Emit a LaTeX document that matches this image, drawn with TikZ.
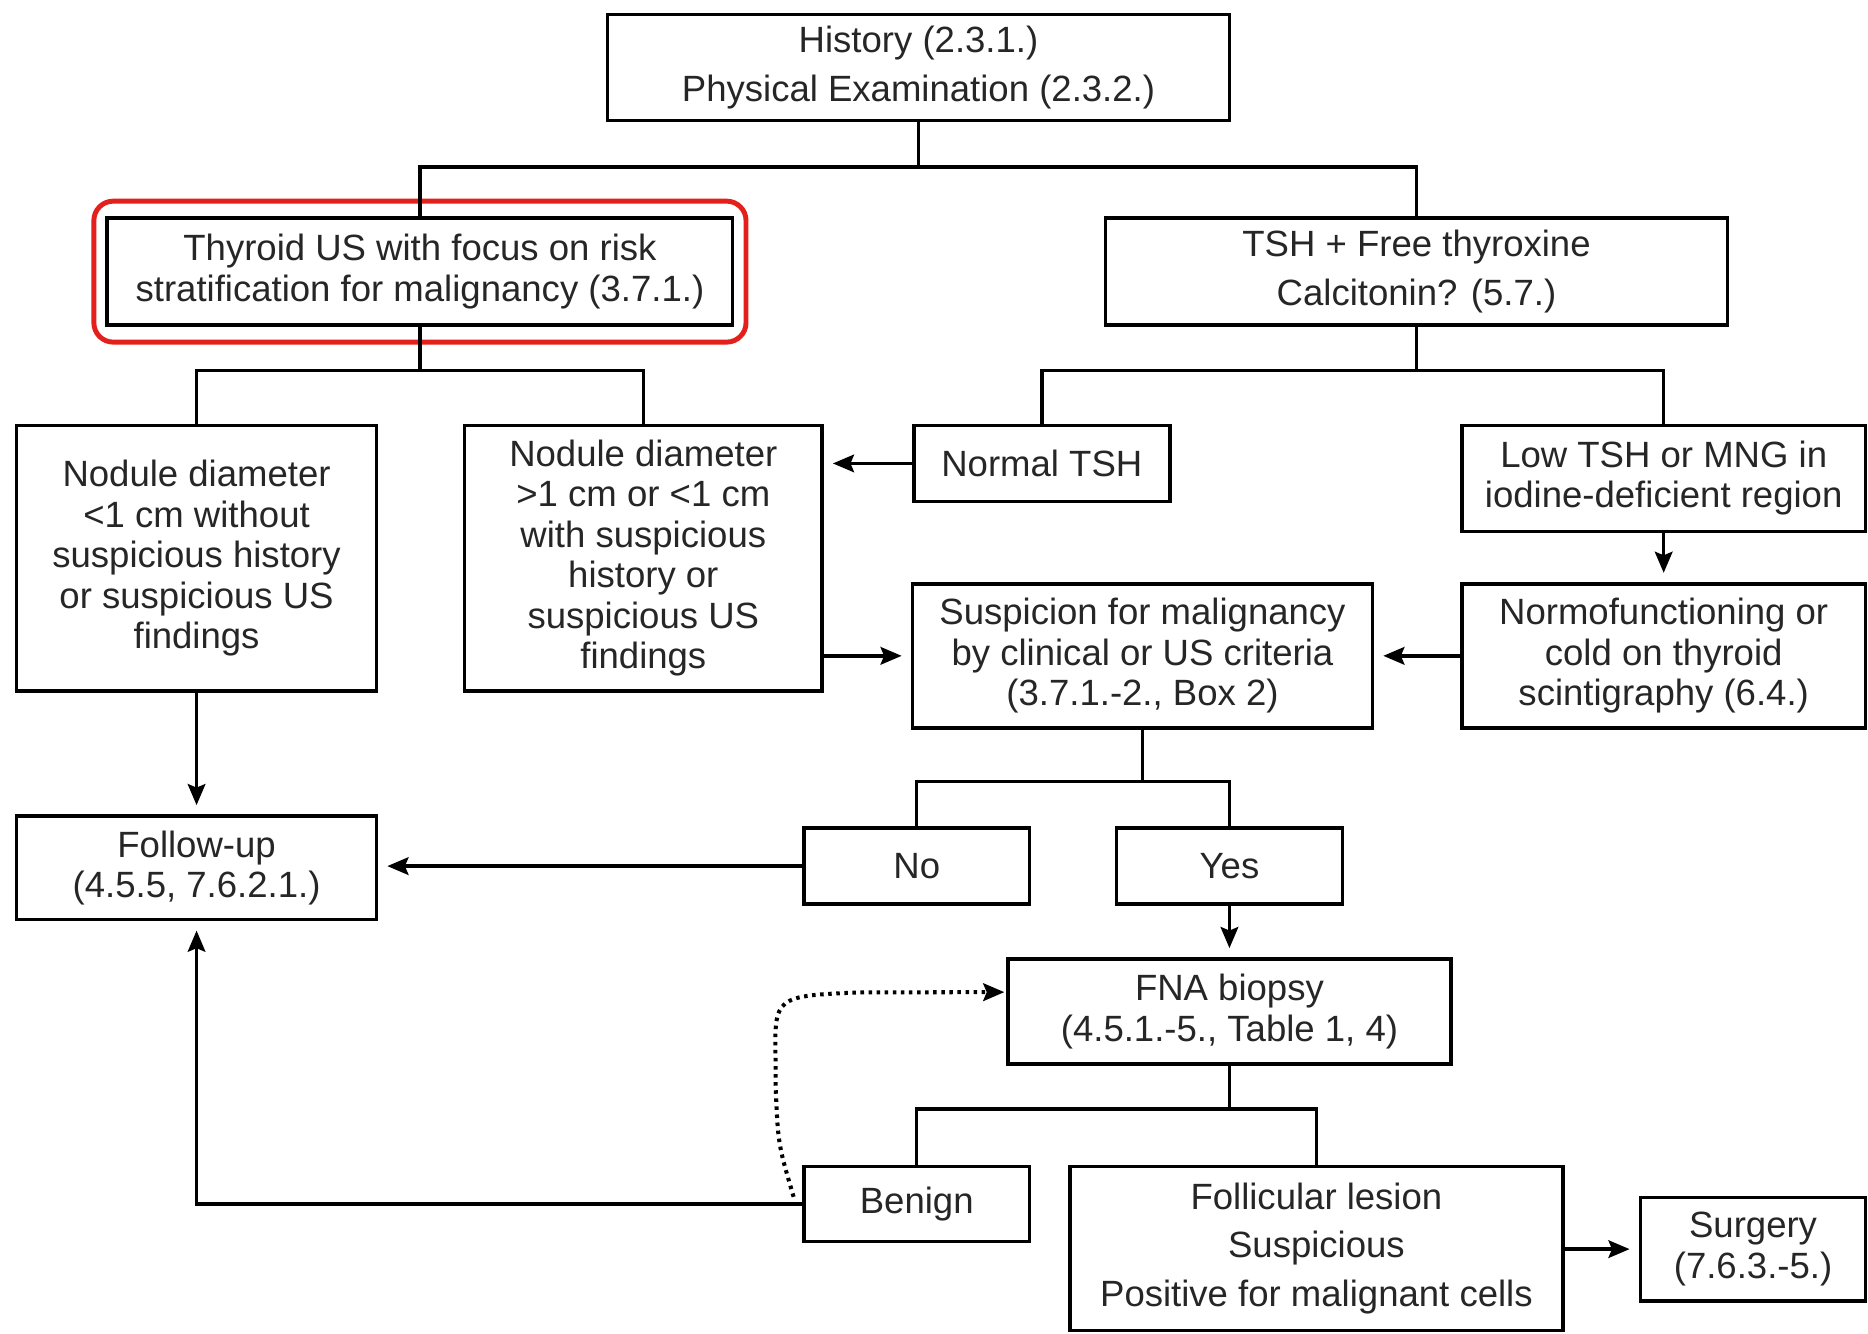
\documentclass[tikz,border=0pt]{standalone}
\usepackage{fontspec}
\setmainfont{Liberation Sans}
\usetikzlibrary{arrows.meta,fit}
\definecolor{hlred}{RGB}{228,32,28}
\begin{document}
\begin{tikzpicture}[x=0.011913cm,y=-0.011913cm,
  box/.style={draw=black, line width=1pt, inner sep=0pt, align=center, text=black!85,
    font=\fontsize{10.4}{11.5}\selectfont},
  sz/.style 2 args={minimum width=#1*0.011913cm, minimum height=#2*0.011913cm},
  link/.style={draw=black, line width=1pt},
  arr/.style={link, -{Stealth[length=6pt,width=5pt,inset=1pt]}, shorten >=2.6pt},
  dotarr/.style={draw=black, line width=1.15pt, dash pattern=on 1pt off 1.3pt,
    -{Stealth[length=6pt,width=5pt,inset=1pt]}, shorten >=0.5pt},
  redbox/.style={draw=hlred, line width=1.4pt, rounded corners=5.5pt}
]
\fill[white] (0,0) rectangle (1568,1119);
\useasboundingbox (0,0) rectangle (1568,1119);

% boxes
\node[box, sz={522}{89}] (history) at (771,56.5) {History (2.3.1.)\\[2.3pt]Physical Examination (2.3.2.)};
\node[box, sz={525}{90}] (thyroid) at (352.5,228) {Thyroid US with focus on risk\\stratification for malignancy (3.7.1.)};
\node[box, sz={522}{90}] (tsh) at (1189,228) {TSH + Free thyroxine\\[2.3pt]Calcitonin? (5.7.)};
\node[box, sz={302}{223}] (nod1) at (165,468.5) {Nodule diameter\\<1 cm without\\suspicious history\\or suspicious US\\findings};
\node[box, sz={300}{223}] (nod2) at (540,468.5) {Nodule diameter\\>1 cm or <1 cm\\with suspicious\\history or\\suspicious US\\findings};
\node[box, sz={215}{64}] (normal) at (874.5,389) {Normal TSH};
\node[box, sz={339}{89}] (low) at (1396.5,401.5) {Low TSH or MNG in\\iodine-deficient region};
\node[box, sz={386}{121}] (susp) at (959,550.5) {Suspicion for malignancy\\by clinical or US criteria\\(3.7.1.-2., Box 2)};
\node[box, sz={339}{121}] (normo) at (1396.5,550.5) {Normofunctioning or\\cold on thyroid\\scintigraphy (6.4.)};
\node[box, sz={189}{64}] (no) at (769.5,727) {No};
\node[box, sz={190}{64}] (yes) at (1032,727) {Yes};
\node[box, sz={302}{87}] (follow) at (165,728.5) {Follow-up\\(4.5.5, 7.6.2.1.)};
\node[box, sz={372}{88}] (fna) at (1032,849) {FNA biopsy\\(4.5.1.-5., Table 1, 4)};
\node[box, sz={189}{63}] (benign) at (769.5,1010.5) {Benign};
\node[box, sz={414}{138}] (foll) at (1105,1048) {Follicular lesion\\[2.3pt]Suspicious\\[2.3pt]Positive for malignant cells};
\node[box, sz={189}{87}] (surg) at (1471.5,1048.5) {Surgery\\(7.6.3.-5.)};

% highlight
\node[redbox, fit=(thyroid), inner xsep=3.3pt, inner ysep=4.3pt] (hl) {};

% tree connectors
\coordinate (j1) at (771,140);
\draw[link] (history.south) -- (j1);
\draw[link] (thyroid.north) |- (j1) -| (tsh.north);
\coordinate (j2) at (352.5,311);
\draw[link] (thyroid.south) -- (j2);
\draw[link] (nod1.north) |- (j2) -| (nod2.north);
\coordinate (j3) at (1189,311);
\draw[link] (tsh.south) -- (j3);
\draw[link] (normal.north) |- (j3) -| (low.north);
\coordinate (j4) at (959,656);
\draw[link] (susp.south) -- (j4);
\draw[link] (no.north) |- (j4) -| (yes.north);
\coordinate (j5) at (1032,931);
\draw[link] (fna.south) -- (j5);
\draw[link] (benign.north) |- (j5) -| (foll.north);

% arrows
\draw[arr] (nod1.south) -- (follow.north);
\draw[arr] (normal.west) -- (normal.west -| nod2.east);
\draw[arr] (nod2.east |- susp.west) -- (susp.west);
\draw[arr] (normo.west) -- (susp.east);
\draw[arr] (low.south) -- (normo.north);
\draw[arr] (no.west) -- (no.west -| follow.east);
\draw[arr] (yes.south) -- (fna.north);
\draw[arr] (benign.west) -| (follow.south);
\draw[arr] (foll.east |- surg.west) -- (surg.west);

% dotted loop back to FNA
\coordinate (ds) at ([xshift=-2.5pt,yshift=2pt]benign.west);
\draw[dotarr] (ds) .. controls (653,960) .. (651,910) -- (651,890)
  .. controls (650,836) .. (722,833) -- ([yshift=5.5pt]fna.west);
\end{tikzpicture}
\end{document}
